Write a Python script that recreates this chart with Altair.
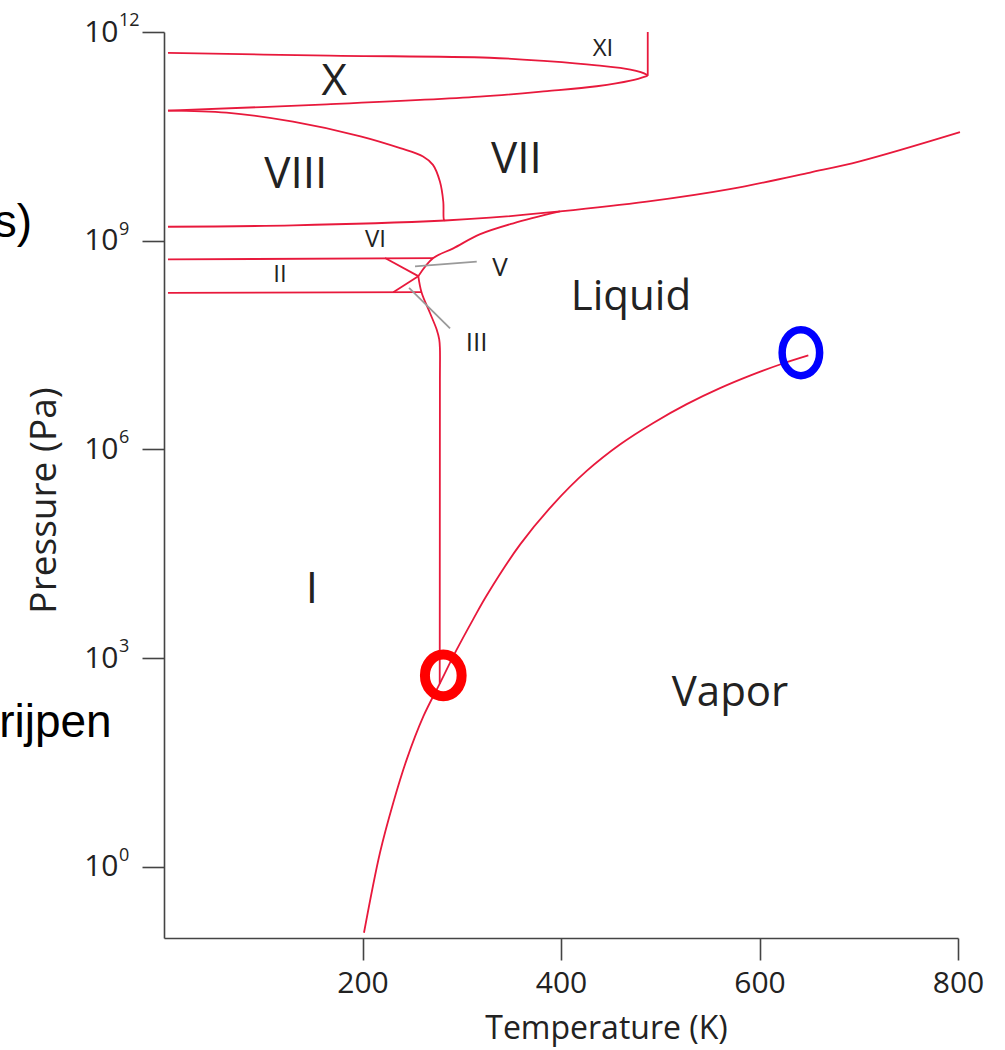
import altair as alt
import pandas as pd

# ---------------- data (temperature in K, pressure as log10 of Pa) ----------------
curves = {
    "x_top":   ([4, 167, 328, 386, 436, 470, 486, 487.2],
                [11.70, 11.66, 11.63, 11.58, 11.52, 11.46, 11.39, 11.37]),
    "x_low":   ([487.2, 470, 436, 386, 318, 164, 4],
                [11.37, 11.30, 11.22, 11.15, 11.07, 10.96, 10.87]),
    "xi_v":    ([487.4, 487.4], [12.0, 11.37]),
    "viii":    ([4, 63, 130, 198, 238, 261, 271, 278, 281.4, 282.1, 283.1],
                [10.87, 10.84, 10.71, 10.50, 10.33, 10.21, 10.09, 9.85, 9.56, 9.30, 9.29]),
    "vii":     ([4, 130, 283.1, 328.5, 399, 486.4, 570, 651, 701, 802],
                [9.20, 9.22, 9.29, 9.33, 9.42, 9.56, 9.74, 9.98, 10.14, 10.56]),
    "melt_a":  ([399, 352, 318, 291.5, 271.3, 256.2],
                [9.42, 9.25, 9.09, 8.89, 8.75, 8.49]),
    "melt_b":  ([256.2, 259.6, 268, 274.8, 277.3, 278, 278, 277.8],
                [8.49, 8.25, 7.96, 7.72, 7.58, 7.45, 7.0, 2.63]),
    "vi_h":    ([4, 271.3], [8.73, 8.75]),
    "v_ii":    ([222.7, 256.2], [8.75, 8.49]),
    "ii_h":    ([4, 259.6], [8.25, 8.26]),
    "iii_ii":  ([231, 256.2], [8.26, 8.49]),
    "vapor":   ([201.5, 217.6, 231, 244.5, 261.3, 278.1, 294.9, 311.6, 325.1, 358.7, 392.2,
                 425.9, 459.4, 493, 526.7, 560.2, 590.4, 620.7, 649.2],
                [-0.95, 0.20, 0.92, 1.54, 2.16, 2.64, 3.12, 3.56, 3.90, 4.63, 5.21,
                 5.69, 6.07, 6.38, 6.65, 6.88, 7.06, 7.22, 7.35]),
}
leaders = {
    "lead_v":   ([252.9, 315.1], [8.63, 8.70]),
    "lead_iii": ([246.9, 288.2], [8.32, 7.74]),
}

label_text = ["X", "XI", "VIII", "VII", "VI", "II", "V", "III", "Liquid", "I", "Vapor"]
label_T = [171.6, 442.3, 132.8, 355.0, 213.1, 116.9, 338.5, 315.1, 470.5, 149.1, 570.3]
label_L = [11.28, 11.76, 9.95, 10.16, 9.01, 8.51, 8.61, 7.53, 8.19, 3.98, 2.50]
label_fs = [44, 24, 44, 44, 24, 24, 26, 26, 42, 44, 42]

triple_T, triple_L = [281.4], [2.75]
critical_T, critical_L = [641.7], [7.39]

ytick_exp = [0, 3, 6, 9, 12]
xtick_vals = [200, 400, 600, 800]

side_text = ["s)", "rijpen"]
side_T = [-133, -52.7]
side_L = [9.05, 1.87]


def frame(d):
    rows = []
    for name, (ts, ls) in d.items():
        for i, (t, l) in enumerate(zip(ts, ls)):
            rows.append({"curve": name, "i": i, "T": t, "P": 10 ** l})
    return pd.DataFrame(rows)


curve_df = frame(curves)
lead_df = frame(leaders)
label_df = pd.DataFrame({"text": label_text, "T": label_T,
                         "P": [10 ** v for v in label_L], "fs": label_fs})
exp_df = pd.DataFrame({"T": [0] * len(ytick_exp), "P": [10.0 ** e for e in ytick_exp],
                       "e": [str(e) for e in ytick_exp]})
side_df = pd.DataFrame({"text": side_text, "T": side_T, "P": [10 ** v for v in side_L]})
triple_df = pd.DataFrame({"T": triple_T, "P": [10 ** v for v in triple_L]})
crit_df = pd.DataFrame({"T": critical_T, "P": [10 ** v for v in critical_L]})

RED = "#e8193c"
FONT = "Open Sans"

x_enc = alt.X("T:Q",
              scale=alt.Scale(domain=[0, 800], nice=False, zero=False),
              axis=alt.Axis(values=xtick_vals, tickSize=22, labelPadding=8,
                            labelFontSize=30, labelFont=FONT, labelFlush=False,
                            labelOverlap=False, title="Temperature (K)",
                            titleFont=FONT, titleFontSize=32, titleFontWeight="normal",
                            titleX=442, titleY=100, titleAlign="center",
                            titleBaseline="alphabetic", grid=False))
y_enc = alt.Y("P:Q",
              scale=alt.Scale(type="log", domain=[10 ** -1.025, 1e12], nice=False),
              axis=alt.Axis(values=[10.0 ** e for e in ytick_exp], labelExpr="'10'",
                            tickSize=22, labelPadding=24, labelFontSize=30,
                            labelFont=FONT, labelFlush=False, labelOverlap=False,
                            title="Pressure (Pa)", titleFont=FONT, titleFontSize=37,
                            titleFontWeight="normal", titleAngle=270, titleX=-109,
                            titleY=468, titleAlign="center", titleBaseline="alphabetic",
                            grid=False))

lines = alt.Chart(curve_df).mark_line(color=RED, strokeWidth=1.8,
                                      interpolate="catmull-rom").encode(
    x=x_enc, y=y_enc, detail="curve:N", order="i:Q")
lead = alt.Chart(lead_df).mark_line(color="#9a9a9a", strokeWidth=1.8).encode(
    x=x_enc, y=y_enc, detail="curve:N", order="i:Q")
labels = alt.Chart(label_df).mark_text(font=FONT, color="#222", baseline="middle",
                                       align="center").encode(
    x=x_enc, y=y_enc, text="text:N", size=alt.Size("fs:Q", scale=None, legend=None))
exps = alt.Chart(exp_df).mark_text(font=FONT, color="#222", fontSize=18, align="left",
                                   baseline="middle", dx=-45, dy=-11).encode(
    x=x_enc, y=y_enc, text="e:N")
side = alt.Chart(side_df).mark_text(font="Liberation Sans", color="#000", fontSize=46,
                                    align="right", baseline="alphabetic").encode(
    x=x_enc, y=y_enc, text="text:N")

ellipse_red = "M -0.88 0 A 0.88 1 0 1 0 0.88 0 A 0.88 1 0 1 0 -0.88 0 Z"
ellipse_blue = "M -0.815 0 A 0.815 1 0 1 0 0.815 0 A 0.815 1 0 1 0 -0.815 0 Z"
triple = alt.Chart(triple_df).mark_point(shape=ellipse_red, size=1739, filled=False,
                                         color="#ff0000", strokeWidth=10, opacity=1).encode(
    x=x_enc, y=y_enc)
crit = alt.Chart(crit_df).mark_point(shape=ellipse_blue, size=2116, filled=False,
                                     color="#0000ff", strokeWidth=7.5, opacity=1).encode(
    x=x_enc, y=y_enc)

chart = alt.layer(lines, lead, labels, exps, side, triple, crit).properties(
    width=794, height=906, autosize="none",
    padding={"left": 164, "top": 32, "right": 47, "bottom": 112},
).configure_view(stroke=None).configure_axis(
    domainColor="#444", tickColor="#444", domainWidth=1.6, tickWidth=1.6,
    labelColor="#222", titleColor="#222")

chart.save("out.html", embed_options={"renderer": "svg", "actions": False})
